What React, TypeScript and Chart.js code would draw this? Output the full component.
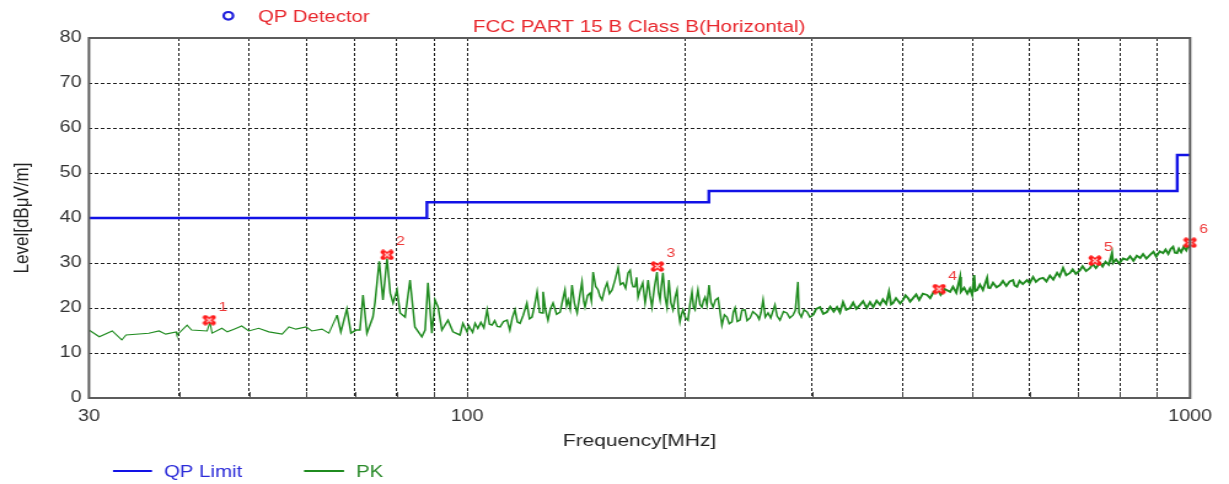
import React, { useEffect, useRef } from 'react';
import { Chart, registerables } from 'chart.js';

Chart.register(...registerables);

// ---- data ----
const pkFreqLow = [
  30.0, 31.0, 32.3, 33.3, 33.75, 36.3, 37.5, 38.3, 39.6, 39.7, 41.0, 41.6, 43.7, 44.1, 44.4, 45.8, 46.6, 47.6, 48.8, 49.9,
  51.5, 53.2, 55.5, 56.7, 58.0, 59.9, 61.0, 63.0, 64.4, 66.1, 66.9, 68.2, 69.1, 70.2, 71.1, 71.8, 72.7, 74.1, 74.6, 75.6,
  76.5, 77.5, 78.3, 79.0, 80.0, 80.8, 82.1, 83.4, 84.7, 86.6, 87.5, 88.3, 89.4, 90.3, 91.2, 92.3, 94.1, 95.6, 97.8, 98.7,
];
const pkLevelLow = [
  15.1, 13.6, 14.9, 12.9, 14.0, 14.4, 14.9, 14.2, 14.7, 14.0, 16.2, 15.1, 14.9, 16.8, 14.4, 15.5, 14.7, 15.3, 16.0, 14.9,
  15.5, 14.7, 14.2, 15.8, 15.3, 15.8, 14.9, 15.3, 14.4, 18.4, 14.7, 19.8, 14.4, 15.1, 15.1, 22.9, 14.4, 18.0, 21.3, 30.4,
  21.8, 31.0, 23.3, 21.1, 24.0, 18.9, 18.0, 26.2, 15.8, 13.6, 15.1, 25.6, 14.4, 21.8, 20.2, 15.1, 17.3, 14.7, 14.0, 16.6,
];
const pkFreqMid = [
  100.0, 100.6, 101.0, 101.8, 102.6, 103.5, 104.5, 105.5, 106.6, 107.4, 108.3, 109.2, 110.1, 111.1, 112.3, 113.6, 114.6, 115.5, 116.5, 117.4,
  118.4, 119.6, 121.0, 122.0, 123.0, 124.0, 125.0, 126.0, 127.0, 127.4, 128.4, 129.4, 130.4, 131.5, 133.0, 134.5, 135.5, 136.6, 137.3, 138.0,
  138.9, 139.7, 140.8, 142.0, 143.1, 144.2, 145.0, 145.6, 146.8, 147.9, 148.6, 149.4, 150.6, 151.8, 152.7, 153.7, 155.0, 156.2, 157.4, 158.7,
  160.2, 161.8, 163.0, 164.4, 165.7, 167.0, 168.1, 169.0, 169.7, 170.8, 171.6, 172.4, 173.5, 175.0, 176.3, 177.2, 178.0, 179.1, 180.2, 181.6,
  183.1, 184.0, 184.9, 185.7, 186.6, 187.8, 189.0, 190.2, 191.4, 192.7, 194.0, 195.2, 196.1, 197.0, 198.0, 198.9, 200.5, 202.1, 203.4, 204.7,
  205.7, 206.7, 207.6, 208.6, 210.0, 211.3, 212.3, 213.4, 214.7, 216.1, 217.5, 218.9, 220.6, 222.4,
];
const pkLevelMid = [
  14.7, 16.0, 15.5, 14.6, 16.6, 15.5, 16.8, 15.6, 19.6, 16.4, 16.2, 17.2, 15.9, 15.8, 17.0, 17.3, 15.1, 17.8, 19.6, 16.9,
  16.6, 18.4, 21.1, 17.6, 18.0, 20.5, 23.6, 19.0, 18.9, 23.6, 19.5, 17.3, 19.8, 21.1, 18.6, 19.1, 21.5, 24.0, 20.5, 21.8,
  19.8, 25.1, 21.0, 18.9, 22.5, 25.8, 21.5, 20.2, 22.8, 23.3, 21.6, 28.0, 24.8, 24.0, 22.6, 21.8, 24.2, 25.6, 23.2, 24.0,
  26.2, 28.9, 25.2, 25.6, 24.4, 27.8, 28.4, 25.6, 24.7, 24.7, 26.8, 22.4, 24.0, 25.6, 21.1, 23.5, 26.2, 22.8, 20.2, 24.6,
  28.0, 23.5, 21.8, 25.0, 27.8, 22.6, 20.2, 26.2, 21.2, 19.6, 22.4, 24.0, 19.2, 16.9, 18.6, 19.6, 17.8, 17.3, 20.8, 23.6,
  20.2, 19.6, 22.0, 24.0, 20.8, 20.2, 21.6, 22.4, 20.6, 25.1, 21.2, 20.2, 21.8, 22.2,
];
const pkFreqHigh = [
  225.2, 227.0, 228.8, 230.5, 232.5, 233.5, 234.8, 236.5, 238.5, 240.0, 242.3, 244.0, 246.3, 248.5, 251.8, 253.5, 255.0, 256.7, 258.5, 260.8,
  263.0, 266.6, 268.5, 270.9, 274.0, 277.0, 279.5, 282.4, 284.5, 286.9, 287.8, 290.0, 292.5, 295.3, 298.0, 301.0, 304.0, 307.7, 311.0, 314.6,
  318.0, 321.5, 324.9, 328.0, 331.2, 334.5, 338.7, 342.0, 345.5, 349.6, 353.0, 357.0, 360.9, 364.5, 368.5, 372.6, 376.0, 380.0, 383.4, 386.0,
  388.3, 392.0, 397.2, 400.9, 404.0, 407.3, 410.0, 413.9, 418.0, 422.0, 427.0, 432.8, 437.0, 442.0, 448.3, 452.0, 458.0, 465.8, 470.0, 475.0,
  480.8, 482.0, 487.0, 492.0, 496.0, 499.6, 502.8, 504.5, 507.6, 512.0, 517.0, 523.9, 526.0, 529.0, 534.0, 540.0, 546.0, 551.0, 557.0, 563.0,
  569.0, 572.0, 576.3, 581.0, 587.0, 595.0, 600.0, 606.5, 612.0, 619.0, 626.2, 633.0, 640.0, 647.0, 654.8, 660.0, 667.4, 674.0, 682.3, 688.0,
  695.0, 704.4, 710.0, 718.0, 727.3, 733.0, 741.0, 750.7, 757.0, 764.0, 772.0, 780.0, 782.5, 790.0, 798.0, 808.0, 818.4, 826.0, 835.0, 844.0,
  853.0, 861.0, 870.0, 880.5, 890.0, 898.0, 908.0, 917.6, 925.0, 933.0, 940.0, 947.4, 953.0, 959.5, 965.0, 972.0, 980.0, 988.0, 994.0, 1000.0,
];
const pkLevelHigh = [
  16.2, 18.5, 18.0, 16.5, 16.9, 19.0, 20.0, 17.0, 17.3, 19.5, 19.6, 17.2, 17.8, 19.2, 18.4, 17.5, 19.0, 21.8, 18.0, 18.9,
  17.8, 20.7, 18.2, 17.3, 19.2, 18.9, 17.8, 18.4, 19.5, 25.8, 19.0, 18.0, 19.6, 19.1, 18.0, 18.4, 19.8, 20.2, 18.7, 19.1,
  20.3, 19.2, 20.2, 19.0, 21.3, 19.6, 20.0, 21.2, 19.8, 20.7, 21.5, 20.0, 21.3, 20.2, 21.6, 20.7, 21.9, 20.9, 23.6, 20.8,
  21.1, 22.2, 21.0, 21.8, 22.8, 22.2, 21.4, 22.2, 23.0, 21.8, 23.2, 22.9, 22.2, 23.6, 24.0, 22.9, 24.2, 23.6, 24.7, 23.4,
  26.9, 23.6, 24.5, 23.2, 24.3, 22.9, 27.3, 23.8, 24.0, 25.2, 24.0, 26.7, 24.5, 24.4, 25.6, 24.6, 25.1, 26.0, 24.9, 25.9,
  26.2, 25.0, 24.7, 26.0, 25.3, 26.2, 25.5, 26.9, 25.8, 26.5, 26.7, 25.9, 27.2, 26.3, 27.8, 27.0, 28.9, 27.3, 27.8, 28.6,
  27.6, 28.4, 29.3, 28.2, 28.9, 29.8, 28.9, 30.0, 29.2, 30.3, 29.6, 32.2, 30.0, 30.8, 29.9, 31.0, 30.7, 31.5, 30.5, 31.6,
  31.1, 32.0, 31.0, 31.8, 32.5, 31.4, 32.6, 32.2, 33.0, 32.0, 33.1, 33.6, 32.3, 32.2, 33.2, 32.4, 33.6, 32.8, 33.9, 33.3,
];

const limitFreq = [30, 88, 216, 960, 1000];
const limitLevel = [40, 43.5, 46, 54, 54];

const markerFreq = [44.0, 77.5, 183.3, 449.8, 738.9, 1000];
const markerLevel = [17.3, 31.8, 29.2, 24.2, 30.5, 34.5];
const markerLabels = ['1', '2', '3', '4', '5', '6'];

const xGridValues = [30, 40, 50, 60, 70, 80, 90, 100, 200, 300, 400, 500, 600, 700, 800, 900, 1000];
const xLabelValues = [30, 100, 1000];
const yTickValues = [0, 10, 20, 30, 40, 50, 60, 70, 80];

const titleText = 'FCC PART 15 B Class B(Horizontal)';
const detectorText = 'QP Detector';
const xTitle = 'Frequency[MHz]';
const yTitle = 'Level[dBμV/m]';
const limitName = 'QP Limit';
const pkName = 'PK';

// ---- styles ----
const FONT = '"Liberation Sans", Arial, sans-serif';
const CANVAS_W = 1000;
const CANVAS_H = 484;
const RED = '#e8262c';
const BLUE = '#1212e6';
const GREEN = '#1f8b1f';

const framePlugin = {
  id: 'frameAndTexts',
  afterDraw(chart: any) {
    const { ctx, chartArea: a, scales } = chart;
    const xs = scales.x;
    const ys = scales.y;
    ctx.save();
    ctx.strokeStyle = '#444';
    ctx.lineWidth = 1;
    xs.ticks.forEach((t: any) => {
      const px = Math.round(xs.getPixelForValue(t.value)) + 0.5;
      ctx.beginPath();
      ctx.moveTo(px, a.bottom);
      ctx.lineTo(px, a.bottom - 6);
      ctx.stroke();
    });
    ctx.strokeStyle = '#5c5c5c';
    ctx.lineWidth = 2;
    ctx.strokeRect(a.left, a.top, a.right - a.left, a.bottom - a.top);

    ctx.beginPath();
    ctx.arc(185.8, 15.8, 3.8, 0, Math.PI * 2);
    ctx.strokeStyle = '#2020dd';
    ctx.lineWidth = 2.2;
    ctx.stroke();
    ctx.fillStyle = RED;
    ctx.font = `16.5px ${FONT}`;
    ctx.textAlign = 'left';
    ctx.textBaseline = 'alphabetic';
    ctx.fillText(detectorText, 209.9, 21.5);
    ctx.font = `16.8px ${FONT}`;
    ctx.textAlign = 'center';
    ctx.fillText(titleText, 520, 32.3);

    ctx.lineWidth = 2;
    ctx.strokeStyle = BLUE;
    ctx.beginPath();
    ctx.moveTo(91.9, 471);
    ctx.lineTo(123.7, 471);
    ctx.stroke();
    ctx.strokeStyle = GREEN;
    ctx.beginPath();
    ctx.moveTo(247.4, 471);
    ctx.lineTo(279.9, 471);
    ctx.stroke();
    ctx.font = `16.6px ${FONT}`;
    ctx.textAlign = 'left';
    ctx.fillStyle = '#2a2ad8';
    ctx.fillText(limitName, 133.4, 476.5);
    ctx.fillStyle = '#2a8a2a';
    ctx.fillText(pkName, 289.7, 476.5);

    ctx.font = `13px ${FONT}`;
    ctx.fillStyle = '#ee3b3b';
    ctx.textAlign = 'center';
    ctx.textBaseline = 'middle';
    markerFreq.forEach((f, i) => {
      const px = xs.getPixelForValue(f) + 11;
      const py = ys.getPixelForValue(markerLevel[i]) - 13;
      ctx.fillText(markerLabels[i], px, py);
    });
    ctx.restore();
  },
};

export default function App() {
  const ref = useRef<HTMLCanvasElement>(null);

  useEffect(() => {
    const canvas = ref.current;
    if (!canvas) return;

    const markerImg = document.createElement('canvas');
    markerImg.width = 12;
    markerImg.height = 11;
    const m = markerImg.getContext('2d')!;
    m.lineCap = 'round';
    m.strokeStyle = '#ff1a1a';
    m.lineWidth = 4.2;
    m.beginPath();
    m.moveTo(2.8, 2.6);
    m.lineTo(9.2, 8.4);
    m.moveTo(9.2, 2.6);
    m.lineTo(2.8, 8.4);
    m.stroke();
    m.strokeStyle = '#ffffff';
    m.lineWidth = 1.1;
    m.beginPath();
    m.moveTo(4.2, 3.9);
    m.lineTo(7.8, 7.1);
    m.moveTo(7.8, 3.9);
    m.lineTo(4.2, 7.1);
    m.stroke();

    const pkFreq = pkFreqLow.concat(pkFreqMid, pkFreqHigh);
    const pkLevel = pkLevelLow.concat(pkLevelMid, pkLevelHigh);

    const chart = new Chart(canvas, {
      type: 'line',
      data: {
        datasets: [
          {
            label: 'Markers',
            data: markerFreq.map((f, i) => ({ x: f, y: markerLevel[i] })),
            showLine: false,
            pointStyle: markerImg as any,
            pointRadius: 6,
            clip: false as any,
          },
          {
            label: pkName,
            data: pkFreq.map((f, i) => ({ x: f, y: pkLevel[i] })),
            borderColor: GREEN,
            borderWidth: 1.4,
            pointRadius: 0,
            tension: 0,
            segment: {
              borderWidth: (c: any) => (c.p0.parsed.x < 66 ? 1.1 : c.p0.parsed.x > 300 ? 1.9 : 1.5),
            },
          },
          {
            label: limitName,
            data: limitFreq.map((f, i) => ({ x: f, y: limitLevel[i] })),
            borderColor: BLUE,
            borderWidth: 2.4,
            pointRadius: 0,
            stepped: 'before',
          },
        ],
      },
      options: {
        responsive: false,
        animation: false,
        devicePixelRatio: 1,
        events: [],
        layout: { padding: { left: 0, right: 31.7, top: 38, bottom: 22 } },
        plugins: {
          legend: { display: false },
          tooltip: { enabled: false },
          title: { display: false },
        },
        scales: {
          x: {
            type: 'logarithmic',
            min: 30,
            max: 1000,
            afterBuildTicks: (s: any) => {
              s.ticks = xGridValues.map((v) => ({ value: v }));
            },
            afterFit: (s: any) => {
              s.height = 64;
            },
            ticks: {
              autoSkip: false,
              maxRotation: 0,
              minRotation: 0,
              padding: 9,
              color: '#333',
              font: { family: FONT, size: 16 },
              callback: (v: any) => (xLabelValues.includes(Number(v)) ? String(v) : ''),
            },
            grid: { color: '#1e1e1e', lineWidth: 1, drawTicks: false },
            border: { display: false, dash: [3, 2] },
            title: {
              display: true,
              text: xTitle,
              color: '#222',
              font: { family: FONT, size: 17 },
              padding: { top: 0, bottom: 10 },
            },
          },
          y: {
            min: 0,
            max: 80,
            afterBuildTicks: (s: any) => {
              s.ticks = yTickValues.map((v) => ({ value: v }));
            },
            afterFit: (s: any) => {
              s.width = 72.4;
            },
            ticks: {
              padding: 6,
              color: '#333',
              font: { family: FONT, size: 16 },
            },
            grid: { color: '#1e1e1e', lineWidth: 1, drawTicks: false },
            border: { display: false, dash: [3, 2] },
            title: {
              display: true,
              text: yTitle,
              color: '#222',
              font: { family: FONT, size: 17 },
              padding: { top: 8, bottom: 0 },
            },
          },
        },
      } as any,
      plugins: [framePlugin],
    });

    return () => chart.destroy();
  }, []);

  return (
    <div style={{ position: 'fixed', left: 0, top: 0, width: 1229, height: 484, background: '#fff' }}>
      <canvas
        ref={ref}
        width={CANVAS_W}
        height={CANVAS_H}
        style={{ width: '1229px', height: '484px', display: 'block' }}
      />
    </div>
  );
}
